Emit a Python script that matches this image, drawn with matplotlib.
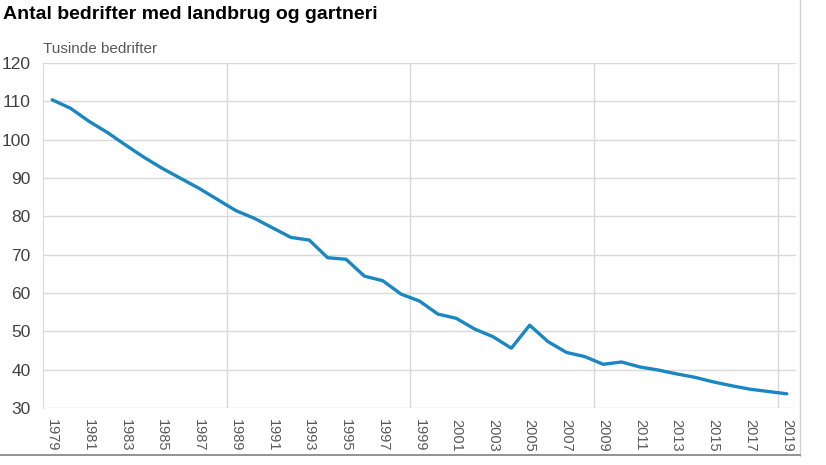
import matplotlib.pyplot as plt
from matplotlib.lines import Line2D

# ==========================
# Data
# ==========================

years = list(range(1979, 2020))
bedrifter = [
    110.4, 108.2, 104.8, 101.9, 98.6, 95.4, 92.5, 89.9, 87.3, 84.4,
    81.5, 79.5, 77.0, 74.5, 73.8, 69.2, 68.8, 64.4, 63.2, 59.7,
    57.9, 54.5, 53.4, 50.6, 48.6, 45.6, 51.6, 47.3, 44.5, 43.4,
    41.4, 42.0, 40.7, 39.9, 38.9, 38.0, 36.8, 35.8, 34.9, 34.3,
    33.7,
]
y_ticks = [30, 40, 50, 60, 70, 80, 90, 100, 110, 120]
x_tick_years = years[::2]
vgrid_years = [1988.5, 1998.5, 2008.5, 2018.5]

title = "Antal bedrifter med landbrug og gartneri"
unit_label = "Tusinde bedrifter"

plt.rcParams["font.family"] = ["Liberation Sans", "DejaVu Sans"]

# ==========================
# Figure
# ==========================

fig = plt.figure(figsize=(8.26, 4.65), dpi=100)
ax = fig.add_axes([0.052, 0.1226, 0.9117, 0.7419])

for yv in y_ticks:
    ax.axhline(yv, color="#d9d9d9", linewidth=1.0, zorder=1)
for xv in vgrid_years:
    ax.axvline(xv, color="#d9d9d9", linewidth=1.0, zorder=1)

ax.plot(years, bedrifter, color="#1a87c1", linewidth=2.4,
        solid_joinstyle="round", solid_capstyle="round", zorder=3)

ax.set_xlim(1978.5, 2019.5)
ax.set_ylim(30, 120)
ax.set_yticks(y_ticks)
ax.set_xticks(x_tick_years)
ax.set_xticklabels([str(y) for y in x_tick_years], rotation=-90,
                   fontsize=10.5, color="#595959")
ax.set_yticklabels([str(v) for v in y_ticks], fontsize=12.5, color="#404040")
ax.tick_params(length=0)
ax.tick_params(axis="x", pad=8)
ax.tick_params(axis="y", pad=9)

for side in ["top", "right", "bottom"]:
    ax.spines[side].set_visible(False)
ax.spines["left"].set_color("#d9d9d9")

fig.text(0.004, 0.987, title, fontsize=14, fontweight="bold",
         va="top", ha="left")
fig.text(0.052, 0.879, unit_label, fontsize=11, color="#595959",
         va="bottom", ha="left")

# frame lines on the right and bottom
fig.add_artist(Line2D([0.969, 0.969], [0.02, 1.0], color="#d0d0d0", linewidth=1.0))
fig.add_artist(Line2D([0.0, 0.969], [0.022, 0.022], color="#808080", linewidth=1.2))

fig.savefig("out.png", dpi=100)
